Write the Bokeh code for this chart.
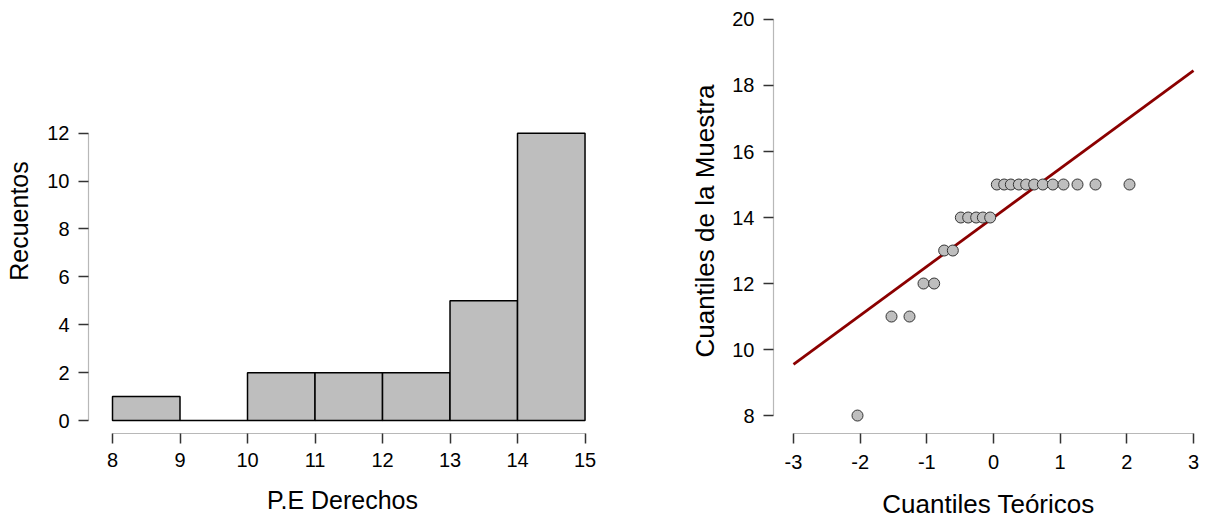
from bokeh.plotting import figure
from bokeh.layouts import row
from bokeh.models import Range1d, FixedTicker
from bokeh.embed import file_html
from bokeh.resources import INLINE

# ---------------- data ----------------
bin_left = [8, 9, 10, 11, 12, 13, 14]
bin_right = [9, 10, 11, 12, 13, 14, 15]
counts = [1, 0, 2, 2, 2, 5, 12]
hist_xticks = [8, 9, 10, 11, 12, 13, 14, 15]
hist_yticks = [0, 2, 4, 6, 8, 10, 12]

theoretical_q = [-2.04, -1.53, -1.26, -1.05, -0.89, -0.74, -0.61, -0.49,
                 -0.38, -0.26, -0.16, -0.05, 0.05, 0.16, 0.26, 0.38,
                 0.49, 0.61, 0.74, 0.89, 1.05, 1.26, 1.53, 2.04]
sample_q = [8, 11, 11, 12, 12, 13, 13, 14, 14, 14, 14, 14,
            15, 15, 15, 15, 15, 15, 15, 15, 15, 15, 15, 15]
qq_intercept = 14.0
qq_slope = 1.4826
qq_line_x = [-3, 3]
qq_xticks = [-3, -2, -1, 0, 1, 2, 3]
qq_yticks = [8, 10, 12, 14, 16, 18, 20]

FONT = "Liberation Sans"
TICK_PX = "20px"
H = 521
TOP = 8
BOTTOM = 87


def style(p, xb, yb, xt, yt, label_px, x_std, x_lab_stand, y_lab_stand):
    p.grid.visible = False
    p.outline_line_color = None
    p.background_fill_color = "white"
    for ax in (p.xaxis[0], p.yaxis[0]):
        ax.axis_line_color = "#b8b8b8"
        ax.axis_line_width = 1.2
        ax.major_tick_line_color = "#333333"
        ax.major_tick_line_width = 1.5
        ax.major_tick_in = 0
        ax.major_tick_out = 10
        ax.minor_tick_line_color = None
        ax.major_label_text_font = FONT
        ax.major_label_text_font_size = TICK_PX
        ax.major_label_text_color = "black"
        ax.axis_label_text_font = FONT
        ax.axis_label_text_font_size = label_px
        ax.axis_label_text_font_style = "normal"
        ax.axis_label_text_color = "black"
        ax.major_label_standoff = 9
    p.xaxis[0].major_label_standoff = x_std
    p.xaxis[0].bounds = xb
    p.yaxis[0].bounds = yb
    p.xaxis[0].ticker = FixedTicker(ticks=xt)
    p.yaxis[0].ticker = FixedTicker(ticks=yt)
    p.xaxis[0].axis_label_standoff = x_lab_stand
    p.yaxis[0].axis_label_standoff = y_lab_stand


# ---------------- histogram ----------------
p1 = figure(width=606, height=H, output_backend="svg", toolbar_location=None,
            x_range=Range1d(7.6444, 15.17), y_range=Range1d(-0.5417, 17.208),
            min_border_left=88, min_border_right=10, min_border_top=TOP,
            min_border_bottom=BOTTOM, x_axis_label="P.E Derechos",
            y_axis_label="Recuentos")
p1.quad(left=bin_left, right=bin_right, bottom=0, top=counts,
        fill_color="#bebebe", line_color="black", line_width=1.5)
style(p1, (8, 15), (0, 12), hist_xticks, hist_yticks, "25px", 9, 16, 11)

# ---------------- Q-Q plot ----------------
p2 = figure(width=607, height=H, output_backend="svg", toolbar_location=None,
            x_range=Range1d(-3.3, 3.15), y_range=Range1d(7.456, 20.333),
            min_border_left=167, min_border_right=10, min_border_top=TOP,
            min_border_bottom=BOTTOM, x_axis_label="Cuantiles Teóricos",
            y_axis_label="Cuantiles de la Muestra")
line_y = [qq_intercept + qq_slope * x for x in qq_line_x]
p2.line(qq_line_x, line_y, line_color="#8b0000", line_width=2.8)
p2.scatter(theoretical_q, sample_q, size=11, fill_color="#bebebe",
           line_color="#333333", line_width=1)
style(p2, (-3, 3), (8, 20), qq_xticks, qq_yticks, "26px", 11, 17, 9)
p2.xaxis[0].major_label_overrides = {t: str(t) for t in qq_xticks}

layout = row(p1, p2)
open("out.html", "w").write(file_html(layout, INLINE))
